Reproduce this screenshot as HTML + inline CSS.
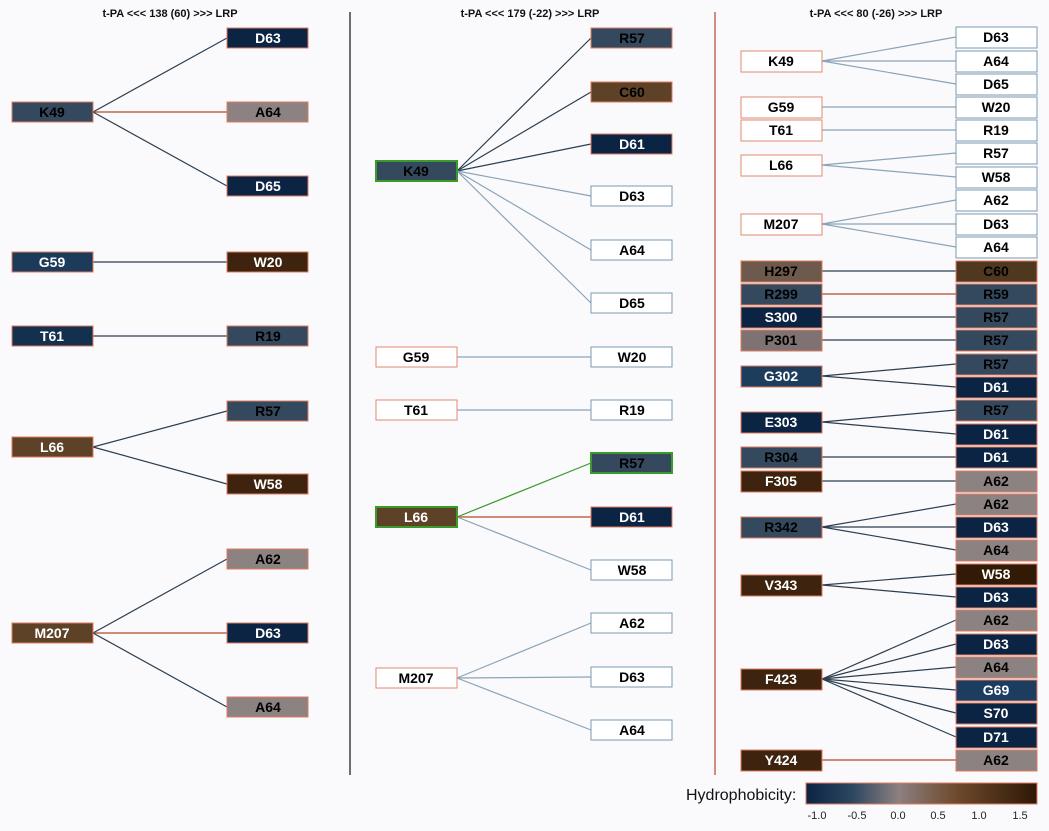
<!DOCTYPE html>
<html><head><meta charset="utf-8"><style>
body{margin:0;background:#fafafc;}
svg{display:block;font-family:"Liberation Sans",sans-serif;font-weight:bold;}
.t{font-size:11px;fill:#111;}
text.l{font-size:14px;text-anchor:middle;}
.n{fill:#0b2444;stroke:#e07a60;stroke-width:1}
.s{fill:#34495e;stroke:#e07a60;stroke-width:1}
.g{fill:#8c8282;stroke:#e07a60;stroke-width:1}
.b{fill:#3e240e;stroke:#e07a60;stroke-width:1}
.m{fill:#5e4228;stroke:#e07a60;stroke-width:1}
.h{fill:#6e5a4c;stroke:#e07a60;stroke-width:1}
.w{fill:#fff;stroke:#e08a70;stroke-width:1}
.wb{fill:#fff;stroke:#7a9ab0;stroke-width:1}
.wt{fill:#fff}.bt{fill:#000}
line{stroke:#2c3e50;stroke-width:1.2}
.r{stroke:#b04a2a}
.lb{stroke:#8aa4b8}
.gr{stroke:#3a9a2a}
</style></head><body>
<svg width="1049" height="831" viewBox="0 0 1049 831">
<defs><linearGradient id="hg" x1="0" x2="1"><stop offset="0" stop-color="#0b2444"/><stop offset="0.2" stop-color="#2c4660"/><stop offset="0.4" stop-color="#8c8080"/><stop offset="0.65" stop-color="#6e4a2c"/><stop offset="1" stop-color="#2e1806"/></linearGradient></defs>
<text class="t" x="170" y="17" text-anchor="middle">t-PA &lt;&lt;&lt; 138 (60) &gt;&gt;&gt; LRP</text>
<text class="t" x="530" y="17" text-anchor="middle">t-PA &lt;&lt;&lt; 179 (-22) &gt;&gt;&gt; LRP</text>
<text class="t" x="876" y="17" text-anchor="middle">t-PA &lt;&lt;&lt; 80 (-26) &gt;&gt;&gt; LRP</text>
<line x1="350" y1="12" x2="350" y2="775" style="stroke:#111"/>
<line x1="715" y1="12" x2="715" y2="775" style="stroke:#b04a2a"/>

<line x1="93" y1="112" x2="227" y2="38"/><line class="r" x1="93" y1="112" x2="227" y2="112"/><line x1="93" y1="112" x2="227" y2="186"/>
<line x1="93" y1="262" x2="227" y2="262"/><line x1="93" y1="336" x2="227" y2="336"/>
<line x1="93" y1="447" x2="227" y2="411"/><line x1="93" y1="447" x2="227" y2="484"/>
<line x1="93" y1="633" x2="227" y2="559"/><line class="r" x1="93" y1="633" x2="227" y2="633"/><line x1="93" y1="633" x2="227" y2="707"/>
<rect class="s" x="12" y="102" width="81" height="20"/><text class="l bt" x="52" y="117">K49</text>
<rect class="n" x="227" y="28" width="81" height="20"/><text class="l wt" x="268" y="43">D63</text>
<rect class="g" x="227" y="102" width="81" height="20"/><text class="l bt" x="268" y="117">A64</text>
<rect class="n" x="227" y="176" width="81" height="20"/><text class="l wt" x="268" y="191">D65</text>
<rect class="n" x="12" y="252" width="81" height="20" style="fill:#1c3a5a"/><text class="l wt" x="52" y="267">G59</text>
<rect class="b" x="227" y="252" width="81" height="20"/><text class="l wt" x="268" y="267">W20</text>
<rect class="n" x="12" y="326" width="81" height="20" style="fill:#13304f"/><text class="l wt" x="52" y="341">T61</text>
<rect class="s" x="227" y="326" width="81" height="20"/><text class="l bt" x="268" y="341">R19</text>
<rect class="m" x="12" y="437" width="81" height="20"/><text class="l wt" x="52" y="452">L66</text>
<rect class="s" x="227" y="401" width="81" height="20"/><text class="l bt" x="268" y="416">R57</text>
<rect class="b" x="227" y="474" width="81" height="20"/><text class="l wt" x="268" y="489">W58</text>
<rect class="m" x="12" y="623" width="81" height="20"/><text class="l wt" x="52" y="638">M207</text>
<rect class="g" x="227" y="549" width="81" height="20"/><text class="l bt" x="268" y="564">A62</text>
<rect class="n" x="227" y="623" width="81" height="20"/><text class="l wt" x="268" y="638">D63</text>
<rect class="g" x="227" y="697" width="81" height="20"/><text class="l bt" x="268" y="712">A64</text>

<line x1="457" y1="171" x2="591" y2="38"/><line x1="457" y1="171" x2="591" y2="92"/><line x1="457" y1="171" x2="591" y2="144"/>
<line class="lb" x1="457" y1="171" x2="591" y2="196"/><line class="lb" x1="457" y1="171" x2="591" y2="250"/><line class="lb" x1="457" y1="171" x2="591" y2="303"/>
<line class="lb" x1="457" y1="357" x2="591" y2="357"/><line class="lb" x1="457" y1="410" x2="591" y2="410"/>
<line class="gr" x1="457" y1="517" x2="591" y2="463"/><line class="r" x1="457" y1="517" x2="591" y2="517"/><line class="lb" x1="457" y1="517" x2="591" y2="570"/>
<line class="lb" x1="457" y1="678" x2="591" y2="623"/><line class="lb" x1="457" y1="678" x2="591" y2="677"/><line class="lb" x1="457" y1="678" x2="591" y2="730"/>
<rect class="s" x="376" y="161" width="81" height="20" style="stroke:#3a9a2a;stroke-width:2"/><text class="l bt" x="416" y="176">K49</text>
<rect class="s" x="591" y="28" width="81" height="20"/><text class="l bt" x="632" y="43">R57</text>
<rect class="m" x="591" y="82" width="81" height="20"/><text class="l bt" x="632" y="97">C60</text>
<rect class="n" x="591" y="134" width="81" height="20"/><text class="l wt" x="632" y="149">D61</text>
<rect class="wb" x="591" y="186" width="81" height="20"/><text class="l bt" x="632" y="201">D63</text>
<rect class="wb" x="591" y="240" width="81" height="20"/><text class="l bt" x="632" y="255">A64</text>
<rect class="wb" x="591" y="293" width="81" height="20"/><text class="l bt" x="632" y="308">D65</text>
<rect class="w" x="376" y="347" width="81" height="20"/><text class="l bt" x="416" y="362">G59</text>
<rect class="wb" x="591" y="347" width="81" height="20"/><text class="l bt" x="632" y="362">W20</text>
<rect class="w" x="376" y="400" width="81" height="20"/><text class="l bt" x="416" y="415">T61</text>
<rect class="wb" x="591" y="400" width="81" height="20"/><text class="l bt" x="632" y="415">R19</text>
<rect class="m" x="376" y="507" width="81" height="20" style="stroke:#3a9a2a;stroke-width:2"/><text class="l wt" x="416" y="522">L66</text>
<rect class="s" x="591" y="453" width="81" height="20" style="stroke:#3a9a2a;stroke-width:2"/><text class="l bt" x="632" y="468">R57</text>
<rect class="n" x="591" y="507" width="81" height="20"/><text class="l wt" x="632" y="522">D61</text>
<rect class="wb" x="591" y="560" width="81" height="20"/><text class="l bt" x="632" y="575">W58</text>
<rect class="w" x="376" y="668" width="81" height="20"/><text class="l bt" x="416" y="683">M207</text>
<rect class="wb" x="591" y="613" width="81" height="20"/><text class="l bt" x="632" y="628">A62</text>
<rect class="wb" x="591" y="667" width="81" height="20"/><text class="l bt" x="632" y="682">D63</text>
<rect class="wb" x="591" y="720" width="81" height="20"/><text class="l bt" x="632" y="735">A64</text>

<g>
<line class="lb" x1="822" y1="61" x2="956" y2="37"/><line class="lb" x1="822" y1="61" x2="956" y2="61"/><line class="lb" x1="822" y1="61" x2="956" y2="84"/>
<line class="lb" x1="822" y1="107" x2="956" y2="107"/><line class="lb" x1="822" y1="130" x2="956" y2="130"/>
<line class="lb" x1="822" y1="165" x2="956" y2="153"/><line class="lb" x1="822" y1="165" x2="956" y2="177"/>
<line class="lb" x1="822" y1="224" x2="956" y2="200"/><line class="lb" x1="822" y1="224" x2="956" y2="224"/><line class="lb" x1="822" y1="224" x2="956" y2="247"/>
<line x1="822" y1="271" x2="956" y2="271"/><line class="r" x1="822" y1="294" x2="956" y2="294"/>
<line x1="822" y1="317" x2="956" y2="317"/><line x1="822" y1="340" x2="956" y2="340"/>
<line x1="822" y1="376" x2="956" y2="364"/><line x1="822" y1="376" x2="956" y2="387"/>
<line x1="822" y1="422" x2="956" y2="410"/><line x1="822" y1="422" x2="956" y2="434"/>
<line x1="822" y1="457" x2="956" y2="457"/><line x1="822" y1="481" x2="956" y2="481"/>
<line x1="822" y1="527" x2="956" y2="504"/><line x1="822" y1="527" x2="956" y2="527"/><line x1="822" y1="527" x2="956" y2="550"/>
<line x1="822" y1="585" x2="956" y2="574"/><line x1="822" y1="585" x2="956" y2="597"/>
<line x1="822" y1="679" x2="956" y2="620"/><line x1="822" y1="679" x2="956" y2="644"/><line x1="822" y1="679" x2="956" y2="667"/>
<line x1="822" y1="679" x2="956" y2="690"/><line x1="822" y1="679" x2="956" y2="713"/><line x1="822" y1="679" x2="956" y2="737"/>
<line class="r" x1="822" y1="760" x2="956" y2="760"/>
</g>
<rect class="w" x="741" y="51" width="81" height="21"/><text class="l bt" x="781" y="66">K49</text>
<rect class="w" x="741" y="97" width="81" height="21"/><text class="l bt" x="781" y="112">G59</text>
<rect class="w" x="741" y="120" width="81" height="21"/><text class="l bt" x="781" y="135">T61</text>
<rect class="w" x="741" y="155" width="81" height="21"/><text class="l bt" x="781" y="170">L66</text>
<rect class="w" x="741" y="214" width="81" height="21"/><text class="l bt" x="781" y="229">M207</text>
<rect class="h" x="741" y="261" width="81" height="21"/><text class="l bt" x="781" y="276">H297</text>
<rect class="s" x="741" y="284" width="81" height="21"/><text class="l bt" x="781" y="299">R299</text>
<rect class="n" x="741" y="307" width="81" height="21"/><text class="l wt" x="781" y="322">S300</text>
<rect class="g" x="741" y="330" width="81" height="21" style="fill:#7e7272"/><text class="l bt" x="781" y="345">P301</text>
<rect class="n" x="741" y="366" width="81" height="21" style="fill:#1e3c5c"/><text class="l wt" x="781" y="381">G302</text>
<rect class="n" x="741" y="412" width="81" height="21"/><text class="l wt" x="781" y="427">E303</text>
<rect class="s" x="741" y="447" width="81" height="21"/><text class="l bt" x="781" y="462">R304</text>
<rect class="b" x="741" y="471" width="81" height="21"/><text class="l wt" x="781" y="486">F305</text>
<rect class="s" x="741" y="517" width="81" height="21"/><text class="l bt" x="781" y="532">R342</text>
<rect class="b" x="741" y="575" width="81" height="21"/><text class="l wt" x="781" y="590">V343</text>
<rect class="b" x="741" y="669" width="81" height="21"/><text class="l wt" x="781" y="684">F423</text>
<rect class="b" x="741" y="750" width="81" height="21"/><text class="l wt" x="781" y="765">Y424</text>
<rect class="wb" x="956" y="27" width="81" height="21"/><text class="l bt" x="996" y="42">D63</text>
<rect class="wb" x="956" y="51" width="81" height="21"/><text class="l bt" x="996" y="66">A64</text>
<rect class="wb" x="956" y="74" width="81" height="21"/><text class="l bt" x="996" y="89">D65</text>
<rect class="wb" x="956" y="97" width="81" height="21"/><text class="l bt" x="996" y="112">W20</text>
<rect class="wb" x="956" y="120" width="81" height="21"/><text class="l bt" x="996" y="135">R19</text>
<rect class="wb" x="956" y="143" width="81" height="21"/><text class="l bt" x="996" y="158">R57</text>
<rect class="wb" x="956" y="167" width="81" height="21"/><text class="l bt" x="996" y="182">W58</text>
<rect class="wb" x="956" y="190" width="81" height="21"/><text class="l bt" x="996" y="205">A62</text>
<rect class="wb" x="956" y="214" width="81" height="21"/><text class="l bt" x="996" y="229">D63</text>
<rect class="wb" x="956" y="237" width="81" height="21"/><text class="l bt" x="996" y="252">A64</text>
<rect class="m" x="956" y="261" width="81" height="21" style="fill:#4f3820"/><text class="l bt" x="996" y="276">C60</text>
<rect class="s" x="956" y="284" width="81" height="21"/><text class="l bt" x="996" y="299">R59</text>
<rect class="s" x="956" y="307" width="81" height="21"/><text class="l bt" x="996" y="322">R57</text>
<rect class="s" x="956" y="330" width="81" height="21"/><text class="l bt" x="996" y="345">R57</text>
<rect class="s" x="956" y="354" width="81" height="21"/><text class="l bt" x="996" y="369">R57</text>
<rect class="n" x="956" y="377" width="81" height="21"/><text class="l wt" x="996" y="392">D61</text>
<rect class="s" x="956" y="400" width="81" height="21"/><text class="l bt" x="996" y="415">R57</text>
<rect class="n" x="956" y="424" width="81" height="21"/><text class="l wt" x="996" y="439">D61</text>
<rect class="n" x="956" y="447" width="81" height="21"/><text class="l wt" x="996" y="462">D61</text>
<rect class="g" x="956" y="471" width="81" height="21"/><text class="l bt" x="996" y="486">A62</text>
<rect class="g" x="956" y="494" width="81" height="21"/><text class="l bt" x="996" y="509">A62</text>
<rect class="n" x="956" y="517" width="81" height="21"/><text class="l wt" x="996" y="532">D63</text>
<rect class="g" x="956" y="540" width="81" height="21"/><text class="l bt" x="996" y="555">A64</text>
<rect class="b" x="956" y="564" width="81" height="21" style="fill:#321a06"/><text class="l wt" x="996" y="579">W58</text>
<rect class="n" x="956" y="587" width="81" height="21"/><text class="l wt" x="996" y="602">D63</text>
<rect class="g" x="956" y="610" width="81" height="21"/><text class="l bt" x="996" y="625">A62</text>
<rect class="n" x="956" y="634" width="81" height="21"/><text class="l wt" x="996" y="649">D63</text>
<rect class="g" x="956" y="657" width="81" height="21"/><text class="l bt" x="996" y="672">A64</text>
<rect class="n" x="956" y="680" width="81" height="21" style="fill:#1c3c60"/><text class="l wt" x="996" y="695">G69</text>
<rect class="n" x="956" y="703" width="81" height="21"/><text class="l wt" x="996" y="718">S70</text>
<rect class="n" x="956" y="727" width="81" height="21"/><text class="l wt" x="996" y="742">D71</text>
<rect class="g" x="956" y="750" width="81" height="21"/><text class="l bt" x="996" y="765">A62</text>

<text x="686" y="800" style="font-size:16px;font-weight:normal;fill:#111">Hydrophobicity:</text>
<rect x="806" y="783" width="231" height="21" fill="url(#hg)" stroke="#e07a60"/>
<g style="font-size:11px;font-weight:normal;fill:#222" text-anchor="middle">
<text x="817" y="819">-1.0</text><text x="857" y="819">-0.5</text><text x="898" y="819">0.0</text><text x="938" y="819">0.5</text><text x="979" y="819">1.0</text><text x="1020" y="819">1.5</text>
</g>
</svg>
</body></html>
